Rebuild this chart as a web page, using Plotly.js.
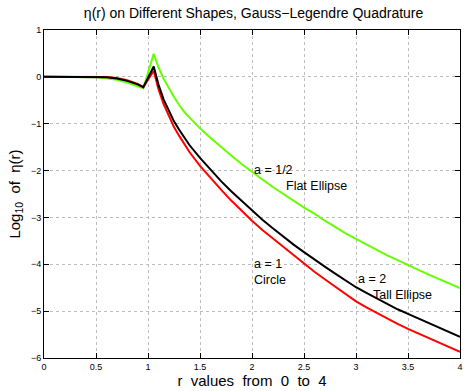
<!DOCTYPE html>
<html>
<head>
<meta charset="utf-8">
<script src="https://cdn.plot.ly/plotly-3.0.1.min.js"></script>
<style>
  html, body { margin: 0; padding: 0; background: #fff; }
  #chart { width: 467px; height: 391px; }
</style>
</head>
<body>
<div id="chart"></div>
<script>
// values (log10 of eta)
const r_values = [0, 0.2, 0.4, 0.5, 0.6, 0.7, 0.8, 0.9, 0.955, 1.055,
  1.1, 1.15, 1.2, 1.25, 1.3, 1.35, 1.4,
  1.5, 1.6, 1.7, 1.8, 1.9, 2.0, 2.1, 2.2, 2.3, 2.4, 2.5, 2.6, 2.7, 2.8, 2.9, 3.0,
  3.1, 3.2, 3.3, 3.4, 3.5, 3.6, 3.7, 3.8, 3.9, 4.0];

// a = 1/2, flat ellipse (green)
const flat_ellipse = [0, 0, 0, -0.01, -0.03, -0.06, -0.12, -0.19, -0.24, 0.49,
  0.21, -0.04, -0.25, -0.43, -0.6, -0.75, -0.87,
  -1.1, -1.3, -1.5, -1.68, -1.86, -2.03, -2.19, -2.35, -2.5, -2.64, -2.79, -2.92, -3.07, -3.2, -3.34, -3.46,
  -3.58, -3.69, -3.81, -3.91, -4.02, -4.12, -4.22, -4.32, -4.42, -4.51];

// a = 1, circle (red)
const circle = [0, 0, 0, 0, -0.005, -0.025, -0.07, -0.15, -0.22, 0.13,
  -0.26, -0.58, -0.84, -1.07, -1.26, -1.44, -1.61,
  -1.9, -2.16, -2.4, -2.64, -2.86, -3.07, -3.27, -3.45, -3.64, -3.82, -3.99, -4.16, -4.32, -4.48, -4.64, -4.79,
  -4.92, -5.04, -5.16, -5.27, -5.38, -5.48, -5.58, -5.68, -5.78, -5.87];

// a = 2, tall ellipse (black)
const tall_ellipse = [0, 0, 0, 0, -0.01, -0.035, -0.085, -0.16, -0.22, 0.22,
  -0.16, -0.48, -0.73, -0.95, -1.13, -1.3, -1.46,
  -1.73, -1.98, -2.22, -2.44, -2.65, -2.86, -3.05, -3.23, -3.41, -3.58, -3.74, -3.9, -4.05, -4.2, -4.35, -4.49,
  -4.61, -4.73, -4.85, -4.96, -5.06, -5.16, -5.26, -5.36, -5.46, -5.55];

const x_ticks = [0, 0.5, 1, 1.5, 2, 2.5, 3, 3.5, 4];
const y_ticks = [-6, -5, -4, -3, -2, -1, 0, 1];

const labels = [
  {x: 2.0, y: -1.99, text: 'a = 1/2'},
  {x: 2.31, y: -2.32, text: 'Flat Ellipse'},
  {x: 2.0, y: -4.0, text: 'a = 1'},
  {x: 2.0, y: -4.34, text: 'Circle'},
  {x: 3.0, y: -4.31, text: 'a = 2'},
  {x: 3.14, y: -4.65, text: 'Tall Ellipse'},
];

const font_family = 'Liberation Sans, Arial, sans-serif';
const sp = '\u00a0\u00a0';

const make_line = (ys, colour, name) => ({
  x: r_values,
  y: ys,
  mode: 'lines',
  name: name,
  line: {color: colour, width: 2},
  hoverinfo: 'skip',
});

const data = [
  make_line(flat_ellipse, '#66ff00', 'a = 1/2'),
  make_line(circle, '#ff0000', 'a = 1'),
  make_line(tall_ellipse, '#000000', 'a = 2'),
];

const axis_common = {
  showline: true,
  linecolor: '#000',
  linewidth: 1,
  mirror: 'ticks',
  ticks: 'inside',
  ticklen: 5,
  tickcolor: '#000',
  showgrid: true,
  gridcolor: '#bdbdbd',
  griddash: 'dot',
  gridwidth: 1,
  zeroline: false,
  tickfont: {family: font_family, size: 9, color: '#000'},
  fixedrange: true,
};

const layout = {
  width: 467,
  height: 391,
  margin: {l: 44, r: 7, t: 30, b: 33},
  paper_bgcolor: '#fff',
  plot_bgcolor: '#fff',
  showlegend: false,
  font: {family: font_family, color: '#000'},
  title: {
    text: 'η(r) on Different Shapes, Gauss\u2212Legendre Quadrature',
    font: {family: font_family, size: 14, color: '#000'},
    x: 0.543, xanchor: 'center',
    y: 0.967, yanchor: 'middle',
  },
  xaxis: Object.assign({}, axis_common, {
    range: [0, 4],
    tickvals: x_ticks,
    ticktext: x_ticks.map(String),
    title: {text: 'r' + sp + 'values' + sp + 'from' + sp + '0' + sp + 'to' + sp + '4', font: {family: font_family, size: 15}, standoff: 3},
  }),
  yaxis: Object.assign({}, axis_common, {
    range: [-6, 1],
    tickvals: y_ticks,
    title: {text: 'Log<sub>10</sub>' + sp + 'of' + sp + 'η(r)', font: {family: font_family, size: 15}, standoff: 6},
  }),
  annotations: labels.map(l => ({
    x: l.x, y: l.y, xref: 'x', yref: 'y',
    text: l.text, showarrow: false,
    xanchor: 'left', yanchor: 'middle',
    font: {family: font_family, size: 12.5, color: '#000'},
  })),
};

Plotly.newPlot('chart', data, layout, {displayModeBar: false, staticPlot: true});
</script>
</body>
</html>
